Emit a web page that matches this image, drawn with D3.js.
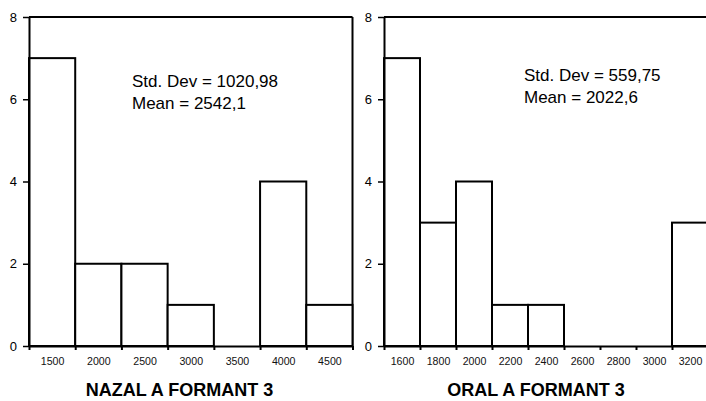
<!DOCTYPE html>
<html>
<head>
<meta charset="utf-8">
<script src="https://cdn.jsdelivr.net/npm/d3@7"></script>
<style>
  html, body { margin: 0; padding: 0; background: #fff; }
  svg { display: block; font-family: "Liberation Sans", Arial, sans-serif; }
</style>
</head>
<body>
<svg id="chart" width="706" height="401"></svg>
<script>
// ---- data ----
const nazalBinCenters = [1500, 2000, 2500, 3000, 3500, 4000, 4500];
const nazalCounts     = [7, 2, 2, 1, 0, 4, 1];
const nazalBinWidth   = 500;
const nazalStats      = ["Std. Dev = 1020,98", "Mean = 2542,1"];
const nazalTitle      = "NAZAL A FORMANT 3";

const oralBinCenters  = [1600, 1800, 2000, 2200, 2400, 2600, 2800, 3000, 3200];
const oralCounts      = [7, 3, 4, 1, 1, 0, 0, 0, 3];
const oralBinWidth    = 200;
const oralStats       = ["Std. Dev = 559,75", "Mean = 2022,6"];
const oralTitle       = "ORAL A FORMANT 3";

const yTickValues     = [0, 2, 4, 6, 8];

const svg = d3.select("#chart");

function panel(opts) {
  const { centers, counts, binW, stats, title, left, right, statsX, statsY, titleX } = opts;
  const top = 17, bottom = 346;
  const x = d3.scaleLinear()
    .domain([centers[0] - binW / 2, centers[centers.length - 1] + binW / 2])
    .range([left, right]);
  const y = d3.scaleLinear().domain([0, 8]).range([bottom, top]);
  const g = svg.append("g");

  // frame top and right
  g.append("line").attr("x1", left).attr("x2", right).attr("y1", top).attr("y2", top)
    .attr("stroke", "#000").attr("stroke-width", 2);
  g.append("line").attr("x1", right).attr("x2", right).attr("y1", top).attr("y2", bottom)
    .attr("stroke", "#000").attr("stroke-width", 2);

  // bars
  g.selectAll("rect.bar").data(centers.map((c, i) => ({ c, v: counts[i] })).filter(d => d.v > 0))
    .enter().append("rect").attr("class", "bar")
    .attr("x", d => x(d.c - binW / 2))
    .attr("width", d => x(d.c + binW / 2) - x(d.c - binW / 2))
    .attr("y", d => y(d.v))
    .attr("height", d => y(0) - y(d.v))
    .attr("fill", "#fff").attr("stroke", "#000").attr("stroke-width", 2);

  // y axis
  const ya = g.append("g").attr("transform", `translate(${left},0)`)
    .call(d3.axisLeft(y).tickValues(yTickValues).tickSize(6).tickSizeOuter(0).tickPadding(6));
  ya.select(".domain").attr("stroke-width", 2);
  ya.selectAll(".tick line").attr("stroke-width", 1.5);
  ya.selectAll(".tick text").style("font-size", "13px").style("fill", "#000")
    .style("font-family", "'Liberation Sans', Arial, sans-serif");

  // x axis: ticks at bin edges
  const edges = centers.map(c => c - binW / 2).concat([centers[centers.length - 1] + binW / 2]);
  const xa = g.append("g").attr("transform", `translate(0,${bottom})`)
    .call(d3.axisBottom(x).tickValues(edges).tickSize(4).tickSizeOuter(0).tickFormat(""));
  xa.select(".domain").attr("stroke-width", 2);
  xa.selectAll(".tick line").attr("stroke-width", 2);

  // x labels at bin centers
  const xl = g.append("g").attr("transform", `translate(0,${bottom})`)
    .call(d3.axisBottom(x).tickValues(centers).tickSize(0).tickPadding(11).tickFormat(d3.format("d")));
  xl.select(".domain").remove();
  xl.selectAll(".tick text").style("font-size", "10.6px").style("fill", "#111")
    .style("font-family", "'Liberation Sans', Arial, sans-serif");

  // stats
  g.selectAll("text.stat").data(stats).enter().append("text").attr("class", "stat")
    .attr("x", statsX).attr("y", (d, i) => statsY + i * 22)
    .style("font-size", "17px").attr("fill", "#000").text(d => d);

  // title
  g.append("text").attr("x", titleX).attr("y", 396).attr("text-anchor", "middle")
    .style("font-size", "18px").attr("font-weight", "bold").attr("fill", "#000").text(title);
}

panel({ centers: nazalBinCenters, counts: nazalCounts, binW: nazalBinWidth, stats: nazalStats,
        title: nazalTitle, left: 29, right: 352.5, statsX: 132, statsY: 87, titleX: 179.5 });
panel({ centers: oralBinCenters, counts: oralCounts, binW: oralBinWidth, stats: oralStats,
        title: oralTitle, left: 384, right: 708, statsX: 524, statsY: 81, titleX: 536 });
</script>
</body>
</html>
